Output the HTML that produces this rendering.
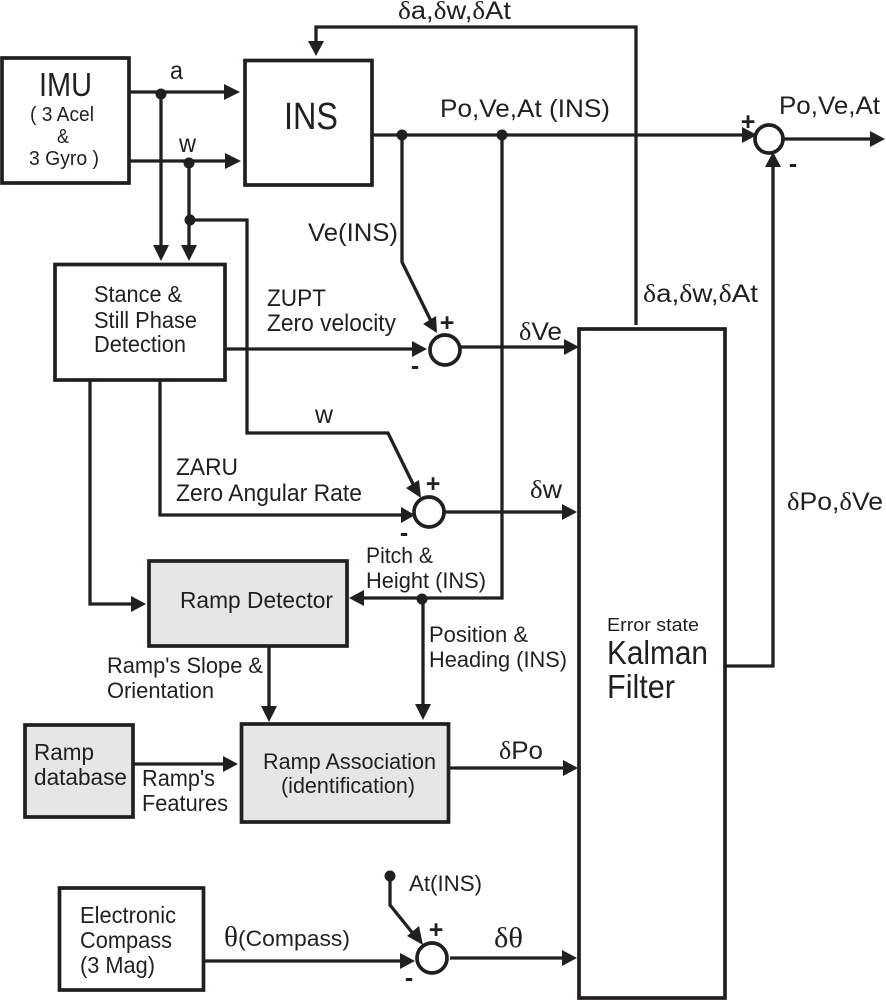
<!DOCTYPE html>
<html><head><meta charset="utf-8"><title>Diagram</title>
<style>
html,body{margin:0;padding:0;background:#fff;width:886px;height:1000px;overflow:hidden}
svg{display:block}
text{font-family:"Liberation Sans",sans-serif;fill:#231f20;font-size:23px}
.d{font-family:"Liberation Serif",serif}
.m{font-size:25px}
.b{font-weight:bold;font-size:25px;text-anchor:middle}
.l{fill:none;stroke:#231f20;stroke-width:3.3}
.w{fill:#fff;stroke:#231f20;stroke-width:3.7}
.g{fill:#e6e6e6;stroke:#231f20;stroke-width:3.7}
polygon,circle.o{fill:#231f20}
</style></head><body>
<svg width="886" height="1000" viewBox="0 0 886 1000" xmlns="http://www.w3.org/2000/svg">
<!-- boxes -->
<rect class="w" x="2" y="58" width="127" height="125"/>
<rect class="w" x="245" y="60.5" width="127" height="124.5"/>
<rect class="w" x="55" y="264.5" width="170" height="115.5"/>
<rect class="g" x="149" y="561" width="198" height="85"/>
<rect class="g" x="25" y="725" width="108" height="92"/>
<rect class="g" x="241.5" y="724" width="207" height="98"/>
<rect class="w" x="59.5" y="888" width="144" height="102"/>
<rect class="w" x="579" y="329" width="146" height="669"/>
<!-- lines -->
<path class="l" d="M130 92H226M161 94V246M130 161H226M189 163V246M190 220H247V433H388L414 486M225 349H413M402 135V262L431 321M460 347H566M372 135H744M502 135V598H364M636 325V27H316V42M783 139H871M725 666H773V166M444 512H564M160 380V515H402M90 380V604H132M269 646V708M423 598V706M133 764H224M450 768H564M204 961H401M390 876V905L415 936M450 958H563"/>
<!-- arrowheads -->
<polygon points="240,92 224,84 224,100"/>
<polygon points="241,161 225,153 225,169"/>
<polygon points="161,261 153,245 169,245"/>
<polygon points="189,261 181,245 197,245"/>
<polygon points="316,56 308,41 324,41"/>
<polygon points="757,135 742,127 742,143"/>
<polygon points="885,139 870,131 870,147"/>
<polygon points="773,152 765,167 781,167"/>
<polygon points="427,349 412,341 412,357"/>
<polygon points="437,333 423,324 436,316"/>
<polygon points="579,347 564,339 564,355"/>
<polygon points="421,498 406,488 419,480"/>
<polygon points="415,515 401,507 401,523"/>
<polygon points="577,512 562,504 562,520"/>
<polygon points="146,604 131,596 131,612"/>
<polygon points="349,598 364,590 364,606"/>
<polygon points="269,722 261,706 277,706"/>
<polygon points="423,720 415,704 431,704"/>
<polygon points="238,764 223,756 223,772"/>
<polygon points="578,768 563,760 563,776"/>
<polygon points="415,961 400,953 400,969"/>
<polygon points="423,945 407,936 419,926"/>
<polygon points="577,958 562,950 562,966"/>
<!-- dots -->
<circle class="o" cx="161" cy="94" r="5.5"/>
<circle class="o" cx="189" cy="163" r="5.5"/>
<circle class="o" cx="190" cy="220" r="5.5"/>
<circle class="o" cx="402" cy="135" r="5.5"/>
<circle class="o" cx="502" cy="135" r="5.5"/>
<circle class="o" cx="422" cy="599" r="5.5"/>
<circle class="o" cx="390" cy="876" r="5.5"/>
<!-- summing junctions -->
<circle class="w" cx="445" cy="350" r="15"/>
<circle class="w" cx="429" cy="512" r="15"/>
<circle class="w" cx="769" cy="139" r="14"/>
<circle class="w" cx="432" cy="958" r="15"/>
<!-- signs -->
<text class="b" x="748" y="130">+</text><text class="b" x="793" y="172">-</text>
<text class="b" x="447" y="331">+</text><text class="b" x="415" y="374">-</text>
<text class="b" x="433" y="492">+</text><text class="b" x="404" y="541">-</text>
<text class="b" x="436" y="938">+</text><text class="b" x="409" y="986">-</text>
<!-- labels -->
<text x="39" y="96" style="font-size:33px" textLength="53" lengthAdjust="spacingAndGlyphs">IMU</text>
<text x="30" y="121" style="font-size:20px" textLength="64" lengthAdjust="spacingAndGlyphs">( 3 Acel</text>
<text x="57" y="143" style="font-size:20px" textLength="12" lengthAdjust="spacingAndGlyphs">&amp;</text>
<text x="29" y="165" style="font-size:20px" textLength="70" lengthAdjust="spacingAndGlyphs">3 Gyro )</text>
<text x="284" y="129" style="font-size:38px" textLength="54" lengthAdjust="spacingAndGlyphs">INS</text>
<text class="m" x="170" y="79" textLength="13" lengthAdjust="spacingAndGlyphs">a</text>
<text class="m" x="179" y="152" textLength="17" lengthAdjust="spacingAndGlyphs">w</text>
<text class="m" x="308" y="241" textLength="90" lengthAdjust="spacingAndGlyphs">Ve(INS)</text>
<text x="94" y="302" textLength="88" lengthAdjust="spacingAndGlyphs">Stance &amp;</text>
<text x="94" y="328" textLength="103" lengthAdjust="spacingAndGlyphs">Still Phase</text>
<text x="94" y="352" textLength="92" lengthAdjust="spacingAndGlyphs">Detection</text>
<text x="267" y="306" textLength="59" lengthAdjust="spacingAndGlyphs" style="font-size:24px">ZUPT</text>
<text x="267" y="331" textLength="129" lengthAdjust="spacingAndGlyphs" style="font-size:24px">Zero velocity</text>
<text class="m" x="398" y="19" textLength="113" lengthAdjust="spacingAndGlyphs"><tspan class="d">δ</tspan>a,<tspan class="d">δ</tspan>w,<tspan class="d">δ</tspan>At</text>
<text class="m" x="440" y="117" textLength="170" lengthAdjust="spacingAndGlyphs">Po,Ve,At (INS)</text>
<text class="m" x="779" y="114" textLength="101" lengthAdjust="spacingAndGlyphs">Po,Ve,At</text>
<text class="m" x="643" y="302" textLength="115" lengthAdjust="spacingAndGlyphs"><tspan class="d">δ</tspan>a,<tspan class="d">δ</tspan>w,<tspan class="d">δ</tspan>At</text>
<text class="m" x="519" y="340" textLength="43" lengthAdjust="spacingAndGlyphs"><tspan class="d">δ</tspan>Ve</text>
<text class="m" x="315" y="423" textLength="18" lengthAdjust="spacingAndGlyphs">w</text>
<text x="176" y="475" textLength="62" lengthAdjust="spacingAndGlyphs" style="font-size:24px">ZARU</text>
<text x="176" y="501" textLength="186" lengthAdjust="spacingAndGlyphs" style="font-size:24px">Zero Angular Rate</text>
<text class="m" x="530" y="498" textLength="32" lengthAdjust="spacingAndGlyphs"><tspan class="d">δ</tspan>w</text>
<text class="m" x="787" y="510" textLength="96" lengthAdjust="spacingAndGlyphs"><tspan class="d">δ</tspan>Po,<tspan class="d">δ</tspan>Ve</text>
<text x="366" y="563" style="font-size:22px" textLength="67" lengthAdjust="spacingAndGlyphs">Pitch &amp;</text>
<text x="366" y="588" style="font-size:22px" textLength="120" lengthAdjust="spacingAndGlyphs">Height (INS)</text>
<text x="429" y="642" style="font-size:22px" textLength="99" lengthAdjust="spacingAndGlyphs">Position &amp;</text>
<text x="429" y="667" style="font-size:22px" textLength="138" lengthAdjust="spacingAndGlyphs">Heading (INS)</text>
<text x="180" y="608" textLength="153" lengthAdjust="spacingAndGlyphs">Ramp Detector</text>
<text x="107" y="673" style="font-size:22px" textLength="156" lengthAdjust="spacingAndGlyphs">Ramp's Slope &amp;</text>
<text x="107" y="698" style="font-size:22px" textLength="107" lengthAdjust="spacingAndGlyphs">Orientation</text>
<text x="607" y="631" style="font-size:18px" textLength="92" lengthAdjust="spacingAndGlyphs">Error state</text>
<text x="607" y="664" style="font-size:33px" textLength="101" lengthAdjust="spacingAndGlyphs">Kalman</text>
<text x="607" y="698" style="font-size:33px" textLength="68" lengthAdjust="spacingAndGlyphs">Filter</text>
<text x="34" y="760" textLength="60" lengthAdjust="spacingAndGlyphs">Ramp</text>
<text x="34" y="785" textLength="93" lengthAdjust="spacingAndGlyphs">database</text>
<text x="142" y="786" textLength="73" lengthAdjust="spacingAndGlyphs">Ramp's</text>
<text x="142" y="811" textLength="86" lengthAdjust="spacingAndGlyphs">Features</text>
<text x="263" y="769" style="font-size:22px" textLength="173" lengthAdjust="spacingAndGlyphs">Ramp Association</text>
<text x="281" y="793" style="font-size:22px" textLength="134" lengthAdjust="spacingAndGlyphs">(identification)</text>
<text class="m" x="499" y="759" textLength="44" lengthAdjust="spacingAndGlyphs"><tspan class="d">δ</tspan>Po</text>
<text x="409" y="891" style="font-size:22px" textLength="73" lengthAdjust="spacingAndGlyphs">At(INS)</text>
<text x="80" y="923" textLength="96" lengthAdjust="spacingAndGlyphs">Electronic</text>
<text x="80" y="948" textLength="92" lengthAdjust="spacingAndGlyphs">Compass</text>
<text x="80" y="973" textLength="75" lengthAdjust="spacingAndGlyphs">(3 Mag)</text>
<text x="224" y="946" textLength="126" lengthAdjust="spacingAndGlyphs"><tspan class="d" style="font-size:28px">θ</tspan><tspan style="font-size:22px">(Compass)</tspan></text>
<text class="d" x="494" y="947" style="font-family:'Liberation Serif',serif;font-size:29px" textLength="29" lengthAdjust="spacingAndGlyphs">δθ</text>
</svg>
</body></html>
